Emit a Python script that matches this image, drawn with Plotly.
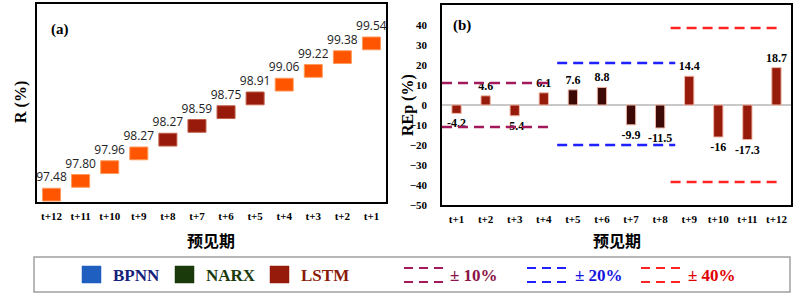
import plotly.graph_objects as go
import numpy as np

# ---------------- data ----------------
a_categories = ["t+12", "t+11", "t+10", "t+9", "t+8", "t+7", "t+6", "t+5", "t+4", "t+3", "t+2", "t+1"]
a_values = [97.48, 97.80, 97.96, 98.27, 98.27, 98.59, 98.75, 98.91, 99.06, 99.22, 99.38, 99.54]
a_group = ["o", "o", "o", "o", "d", "d", "d", "d", "o", "o", "o", "o"]

b_categories = ["t+1", "t+2", "t+3", "t+4", "t+5", "t+6", "t+7", "t+8", "t+9", "t+10", "t+11", "t+12"]
b_values = [-4.2, 4.6, -5.4, 6.1, 7.6, 8.8, -9.9, -11.5, 14.4, -16, -17.3, 18.7]
b_group = ["r", "r", "r", "r", "d", "d", "d", "d", "r", "r", "r", "r"]

band_names = ["± 10%", "± 20%", "± 40%"]
band_upper = [11, 21, 38.5]
band_lower = [-11, -20, -38.5]
band_first = [0, 4, 8]   # index of first category covered
band_last = [3, 7, 11]   # index of last category covered

legend_models = ["BPNN", "NARX", "LSTM"]

# ---------------- style ----------------
W, H = 798, 294
SERIF = "Liberation Serif"
a_colors = {"o": "#ff5500", "d": "#981a0a"}
a_edges = {"o": "#ff9a5c", "d": "#c0604a"}
b_colors = {"r": "#961b0b", "d": "#3d0a05"}
band_colors = ["#a3195b", "#1f1fff", "#ff2424"]
band_text_colors = ["#8b1548", "#1414e0", "#e00000"]
band_pad = [(-0.5, 0.25), (-0.54, 0.52), (-0.64, 0.2)]
model_colors = ["#1f5fbf", "#1b3a0b", "#961b0b"]
model_text_colors = ["#14207a", "#1b3a0b", "#8b1a0a"]

def px(x):
    return x / W

def py(y):
    return 1 - y / H

fig = go.Figure()

# Panel (a): staircase of boxes (one step per category)
a_idx = np.arange(len(a_categories))
box_h = 0.93
fig.add_trace(go.Bar(
    x=a_idx, y=[box_h] * len(a_idx), base=a_idx * 1.0,
    width=0.62,
    marker=dict(color=[a_colors[g] for g in a_group],
                line=dict(color=[a_edges[g] for g in a_group], width=1)),
    text=[f"{v:.2f}" for v in a_values], textposition="outside",
    constraintext="none", cliponaxis=False,
    textfont=dict(family="Open Sans", size=12, color="#222222"),
    xaxis="x", yaxis="y", showlegend=False, hoverinfo="skip",
))

# Panel (b): bars
b_idx = np.arange(len(b_categories))
fig.add_trace(go.Bar(
    x=b_idx, y=b_values, width=0.32,
    marker=dict(color=[b_colors[g] for g in b_group],
                line=dict(color="#f0b8a8", width=1)),
    text=[f"{v:g}" for v in b_values], textposition="outside",
    constraintext="none", cliponaxis=False,
    textfont=dict(family=SERIF, size=12, color="black", weight="bold"),
    xaxis="x2", yaxis="y2", showlegend=False, hoverinfo="skip",
))

# Panel (b): dashed bands
for i in range(len(band_names)):
    x0 = band_first[i] + band_pad[i][0]
    x1 = band_last[i] + band_pad[i][1]
    for lvl in (band_upper[i], band_lower[i]):
        fig.add_trace(go.Scatter(
            x=[x0, x1], y=[lvl, lvl], mode="lines",
            line=dict(color=band_colors[i], width=2.5, dash="10px,6px"),
            xaxis="x2", yaxis="y2", showlegend=False, hoverinfo="skip",
        ))

frame = dict(showline=True, mirror=True, linecolor="black", linewidth=1.5,
             showgrid=False, zeroline=False, ticks="", automargin=False)
tickf = dict(family=SERIF, size=11, color="black", weight="bold")

fig.update_layout(
    width=W, height=H,
    margin=dict(l=0, r=0, t=0, b=0, autoexpand=False),
    paper_bgcolor="white", plot_bgcolor="white",
    barmode="overlay",
    xaxis=dict(domain=[px(37), px(386)], range=[-0.5, 11.5],
               tickvals=list(a_idx), ticktext=a_categories, tickfont=tickf,
               ticklabelstandoff=3, **frame),
    yaxis=dict(domain=[py(202), py(4)], range=[-0.07, 14.33],
               showticklabels=False, **frame),
    xaxis2=dict(domain=[px(442), px(791)], range=[-0.5, 11.5],
                tickvals=list(b_idx), ticktext=b_categories, tickfont=tickf,
                ticklabelstandoff=3, anchor="y2", **frame),
    yaxis2=dict(domain=[py(205), py(5)], range=[-50, 50], dtick=10,
                tickfont=tickf, ticklabelstandoff=11, anchor="x2",
                **{**frame, "zeroline": True}, zerolinecolor="#c8c8c8",
                zerolinewidth=2),
)

ann = []
def add_text(x, y, text, size, color="black", family=SERIF, angle=0, bold=True):
    ann.append(dict(x=px(x), y=py(y), xref="paper", yref="paper", text=text,
                    showarrow=False, textangle=angle,
                    font=dict(family=family, size=size, color=color,
                              weight="bold" if bold else "normal"),
                    xanchor="center", yanchor="middle"))

add_text(60, 29, "(a)", 15)
add_text(462, 26, "(b)", 15)
add_text(21, 102, "R (%)", 16, angle=-90)
add_text(408, 105, "REp (%)", 16, angle=-90)
add_text(211, 240, "预见期", 16, family="Noto Sans CJK SC")
add_text(617, 240, "预见期", 16, family="Noto Sans CJK SC")

shapes = []
# legend frame
shapes.append(dict(type="rect", xref="paper", yref="paper",
                   x0=px(34), x1=px(790), y0=py(292), y1=py(257),
                   line=dict(color="#a0a0a0", width=1.5), fillcolor="white"))
sq_x = [82, 175, 270]
txt_x = [136, 231, 325]
for i, name in enumerate(legend_models):
    shapes.append(dict(type="rect", xref="paper", yref="paper",
                       x0=px(sq_x[i]), x1=px(sq_x[i] + 19), y0=py(283), y1=py(266),
                       line=dict(color=model_colors[i], width=0.5),
                       fillcolor=model_colors[i]))
    add_text(txt_x[i], 275, name, 17, color=model_text_colors[i])

dash_x = [404, 527, 641]
btxt_x = [474, 599, 712]
for i, name in enumerate(band_names):
    for yy in (268, 282):
        shapes.append(dict(type="line", xref="paper", yref="paper",
                           x0=px(dash_x[i]), x1=px(dash_x[i] + 40), y0=py(yy), y1=py(yy),
                           line=dict(color=band_colors[i], width=2, dash="9px,6px")))
    add_text(btxt_x[i], 275, name, 17, color=band_text_colors[i])

fig.update_layout(annotations=ann, shapes=shapes)
fig.write_html("out.html", config={"displayModeBar": False},
               post_script="document.body.style.margin='0';document.body.style.overflow='hidden';")
